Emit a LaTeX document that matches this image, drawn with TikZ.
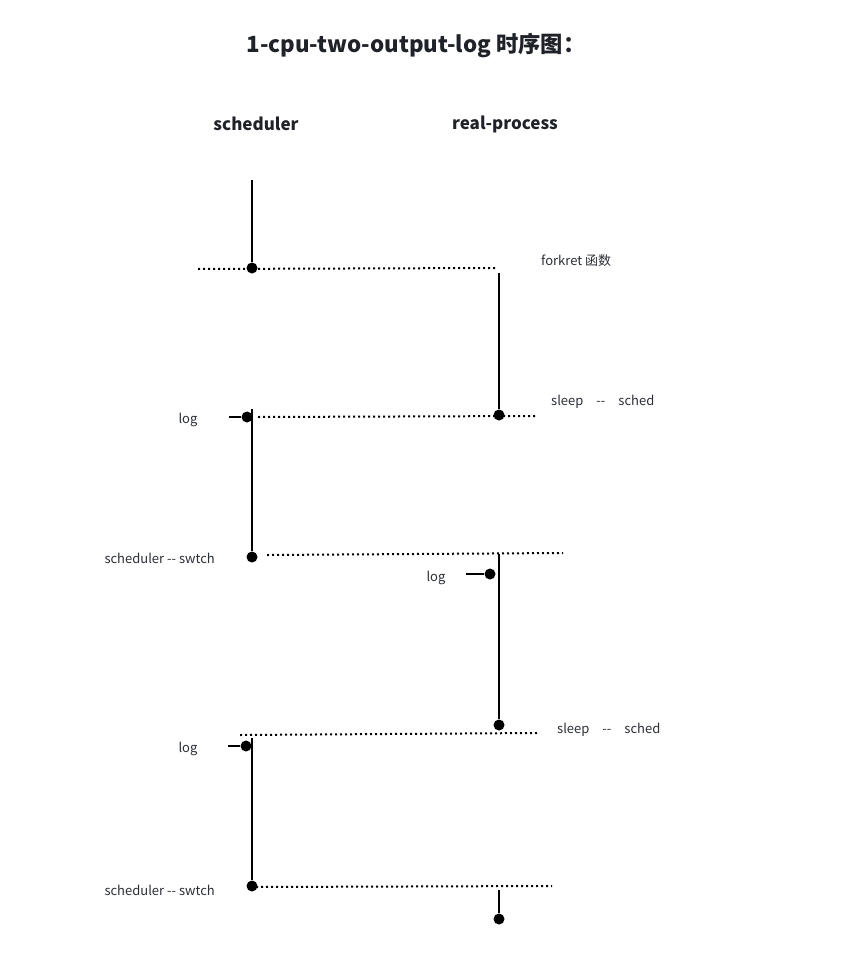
\documentclass[tikz,border=0pt]{standalone}
\usepackage{fontspec}
\setmainfont{Noto Sans CJK SC}
\definecolor{txtc}{HTML}{1F2329}
\definecolor{lblc}{HTML}{2B2F36}
\begin{document}
\begin{tikzpicture}[x=1pt,y=-1pt,
  life/.style={line width=2pt,black},
  msg/.style={line width=2pt,black,dash pattern=on 2pt off 3pt},
  evdot/.style={circle,fill=black,inner sep=0pt,minimum size=11pt},
  lbl/.style={font=\fontsize{13}{15}\selectfont,text=lblc,inner sep=0pt},
  head/.style={font=\bfseries\fontsize{17}{20}\selectfont,text=txtc,inner sep=0pt}]
\useasboundingbox[fill=white] (0,0) rectangle (849,955);
% titles
\node[font=\bfseries\fontsize{22.3}{26}\selectfont,text=txtc,inner sep=0pt] (title) at (416,46) {1-cpu-two-output-log 时序图：};
\node[head] (hs) at (256,124) {scheduler};
\node[head] (hr) at (505,124) {real-process};
% step 1
\coordinate (s0) at (252,180);
\node[evdot] (s1) at (252,268) {};
\draw[life] (s0) -- (s1);
\coordinate (m1a) at (198,269);
\coordinate (m1b) at (497,268);
\draw[msg] (m1a) -- (m1b);
\node[lbl,anchor=west] (fk) at (541,261) {forkret 函数};
% step 2
\coordinate (r0) at (499,273);
\node[evdot] (r1) at (499,415) {};
\draw[life] (r0) -- (r1);
\coordinate (m2a) at (258,417);
\coordinate (m2b) at (537,416);
\draw[msg] (m2a) -- (m2b);
\node[lbl,anchor=west] (sl1) at (551,402) {sleep\hspace{1em}-{}-\hspace{1em}sched};
\coordinate (s2t) at (252,409);
\node[evdot] (s2) at (252,557) {};
\draw[life] (s2t) -- (s2);
\coordinate (l1t) at (229,417);
\node[evdot] (l1) at (247,417) {};
\draw[life] (l1t) -- (l1);
\node[lbl] (lg1) at (188,420) {log};
\node[lbl,anchor=east] (sw1) at (215,558) {scheduler -{}- swtch};
% step 3
\coordinate (m3a) at (267,555);
\coordinate (m3b) at (563,553);
\draw[msg] (m3a) -- (m3b);
\coordinate (r2t) at (499,554);
\node[evdot] (r2) at (499,725) {};
\draw[life] (r2t) -- (r2);
\coordinate (l2t) at (466,574);
\node[evdot] (l2) at (490,574) {};
\draw[life] (l2t) -- (l2);
\node[lbl] (lg2) at (436,578) {log};
% step 4
\coordinate (m4a) at (240,735);
\coordinate (m4b) at (537,733);
\draw[msg] (m4a) -- (m4b);
\node[lbl,anchor=west] (sl2) at (557,730) {sleep\hspace{1em}-{}-\hspace{1em}sched};
\coordinate (s3t) at (252,738);
\node[evdot] (s3) at (252,886) {};
\draw[life] (s3t) -- (s3);
\coordinate (l3t) at (228,746);
\node[evdot] (l3) at (246,746) {};
\draw[life] (l3t) -- (l3);
\node[lbl] (lg3) at (188,749) {log};
\node[lbl,anchor=east] (sw2) at (215,890) {scheduler -{}- swtch};
% step 5
\coordinate (m5a) at (256,887);
\coordinate (m5b) at (552,886);
\draw[msg] (m5a) -- (m5b);
\coordinate (r3t) at (499,890);
\node[evdot] (r3) at (499,919) {};
\draw[life] (r3t) -- (r3);
\end{tikzpicture}
\end{document}
